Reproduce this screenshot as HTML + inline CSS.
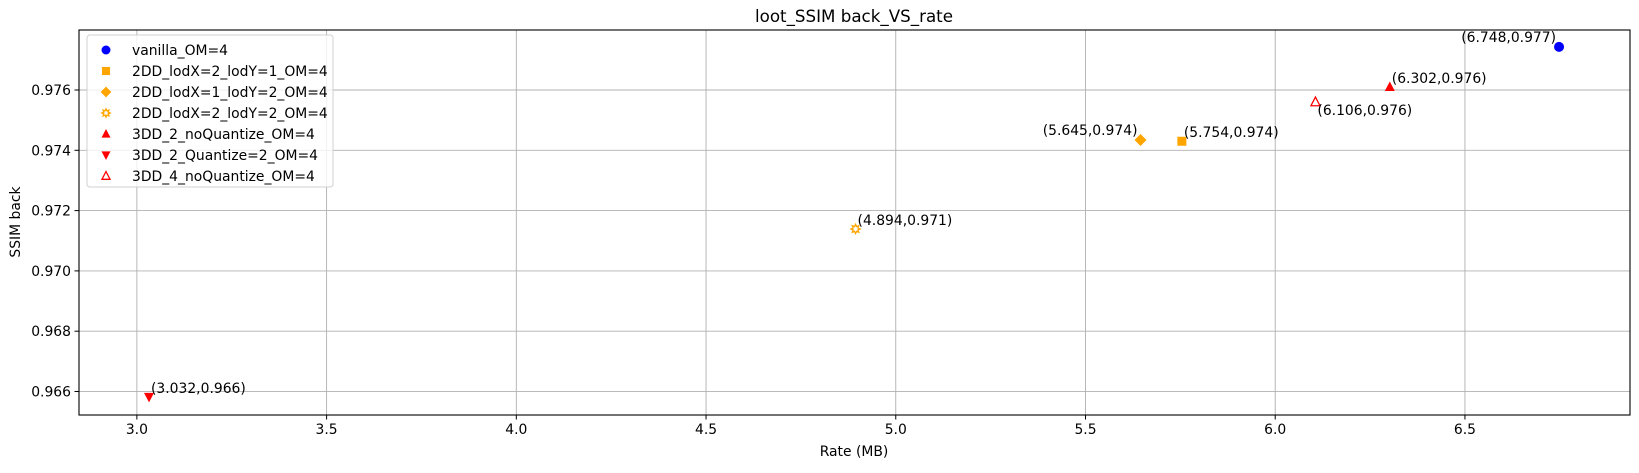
<!DOCTYPE html>
<html><head><meta charset="utf-8"><style>
body{margin:0;background:#fff;}
svg text{font-family:"DejaVu Sans","Liberation Sans",sans-serif;fill:#000;}
</style></head><body>
<svg id="chart" width="1639" height="468" viewBox="0 0 1639 468" xmlns="http://www.w3.org/2000/svg">
<rect width="1639" height="468" fill="#fff"/>
<text x="854" y="22" font-size="16.7" text-anchor="middle">loot_SSIM back_VS_rate</text>
<g id="grid"></g>
<g id="ticks"></g>
<rect x="79" y="30" width="1551" height="385" fill="none" stroke="#000" stroke-width="1.1"/>
<text x="854" y="456" font-size="13.9" text-anchor="middle">Rate (MB)</text>
<text x="0" y="0" font-size="13.9" text-anchor="middle" transform="translate(20,222) rotate(-90)">SSIM back</text>
<g id="points"></g>
<g id="legend"></g>
</svg>
<script>
const seriesNames=["vanilla_OM=4","2DD_lodX=2_lodY=1_OM=4","2DD_lodX=1_lodY=2_OM=4","2DD_lodX=2_lodY=2_OM=4","3DD_2_noQuantize_OM=4","3DD_2_Quantize=2_OM=4","3DD_4_noQuantize_OM=4"];
const rateValues=[6.748,5.754,5.645,4.894,6.302,3.032,6.106];
const ssimValues=[0.97743,0.97430,0.97434,0.97139,0.97610,0.96582,0.97560];
const pointLabels=["(6.748,0.977)","(5.754,0.974)","(5.645,0.974)","(4.894,0.971)","(6.302,0.976)","(3.032,0.966)","(6.106,0.976)"];
const xTicks=[3.0,3.5,4.0,4.5,5.0,5.5,6.0,6.5];
const yTicks=[0.966,0.968,0.970,0.972,0.974,0.976];
const markers=["circle","square","diamond","star","up","down","upopen"];
const colors=["#0000ff","#ffa500","#ffa500","#ffa500","#ff0000","#ff0000","#ff0000"];
const labelPos=["left-above","right-above","left-above","right-above","right-above","right-above","right-below"];

const X0=79,X1=1630,Y0=30,Y1=415;
const xMin=2.8475,xMax=6.935,yMin=0.96522,yMax=0.97799;
const sx=v=>X0+(v-xMin)/(xMax-xMin)*(X1-X0);
const sy=v=>Y1-(v-yMin)/(yMax-yMin)*(Y1-Y0);
const NS="http://www.w3.org/2000/svg";
function mk(tag,attrs,parent){const e=document.createElementNS(NS,tag);for(const k in attrs)e.setAttribute(k,attrs[k]);parent.appendChild(e);return e;}
const grid=document.getElementById('grid'),ticks=document.getElementById('ticks');
xTicks.forEach(t=>{const x=sx(t);
 const g=mk('line',{x1:x,x2:x,y1:Y0,y2:Y1,stroke:'#b0b0b0','stroke-width':0.9},grid);
 
 
 mk('line',{x1:x,x2:x,y1:Y1,y2:Y1+4.5,stroke:'#000'},ticks);
 const tx=mk('text',{x:x,y:Y1+19,'font-size':13.9,'text-anchor':'middle'},ticks);tx.textContent=t.toFixed(1);
 
 
});
yTicks.forEach(t=>{const y=sy(t);
 const g=mk('line',{x1:X0,x2:X1,y1:y,y2:y,stroke:'#b0b0b0','stroke-width':0.9},grid);
 
 
 mk('line',{x1:X0-4.5,x2:X0,y1:y,y2:y,stroke:'#000'},ticks);
 const tx=mk('text',{x:X0-8,y:y+5,'font-size':13.9,'text-anchor':'end'},ticks);tx.textContent=t.toFixed(3);
 
 
});
function marker(type,x,y,c,parent,s){
 s=s||1;let e;
 if(type==='circle')e=mk('circle',{cx:x,cy:y,r:5*s,fill:c},parent);
 else if(type==='square')e=mk('rect',{x:x-4.5*s,y:y-4.5*s,width:9*s,height:9*s,fill:c},parent);
 else if(type==='diamond')e=mk('polygon',{points:`${x},${y-6*s} ${x+6*s},${y} ${x},${y+6*s} ${x-6*s},${y}`,fill:c},parent);
 else if(type==='up')e=mk('polygon',{points:`${x},${y-5.5*s} ${x+5*s},${y+4*s} ${x-5*s},${y+4*s}`,fill:c},parent);
 else if(type==='down')e=mk('polygon',{points:`${x},${y+5.5*s} ${x+5*s},${y-4*s} ${x-5*s},${y-4*s}`,fill:c},parent);
 else if(type==='upopen')e=mk('polygon',{points:`${x},${y-5*s} ${x+4.5*s},${y+3.7*s} ${x-4.5*s},${y+3.7*s}`,fill:'none',stroke:c,'stroke-width':1.3},parent);
 else if(type==='star'){let p=[];for(let i=0;i<16;i++){const r=(i%2?2.6:4.6)*s,a=i*Math.PI/8;p.push((x+r*Math.cos(a))+','+(y+r*Math.sin(a)));}
  e=mk('g',{},parent);mk('polygon',{points:p.join(' '),fill:'none',stroke:c,'stroke-width':1.3},e);}
 return e;
}
const pts=document.getElementById('points');
rateValues.forEach((r,i)=>{const x=sx(r),y=sy(ssimValues[i]);
 const m=marker(markers[i],x,y,colors[i],pts);
 
 
 let lx=x+2,ly=y-4,anchor='start';
 if(labelPos[i]==='left-above'){lx=x-3;anchor='end';ly=y-5;}
 if(labelPos[i]==='right-below'){ly=y+13;}
 const t=mk('text',{x:lx,y:ly,'font-size':13.9,'text-anchor':anchor},pts);t.textContent=pointLabels[i];
 
 
});
const lg=document.getElementById('legend');
const box=mk('rect',{x:87,y:35,width:246,height:152,rx:3,fill:'#fff','fill-opacity':0.8,stroke:'#d0d0d0'},lg);


seriesNames.forEach((n,i)=>{const y=50+i*21;
 const g=mk('g',{},lg);
 
 
 marker(markers[i],106,y,colors[i],g,0.9);
 const t=mk('text',{x:132,y:y+5,'font-size':13.9},g);t.textContent=n;
});
</script>
</body></html>
